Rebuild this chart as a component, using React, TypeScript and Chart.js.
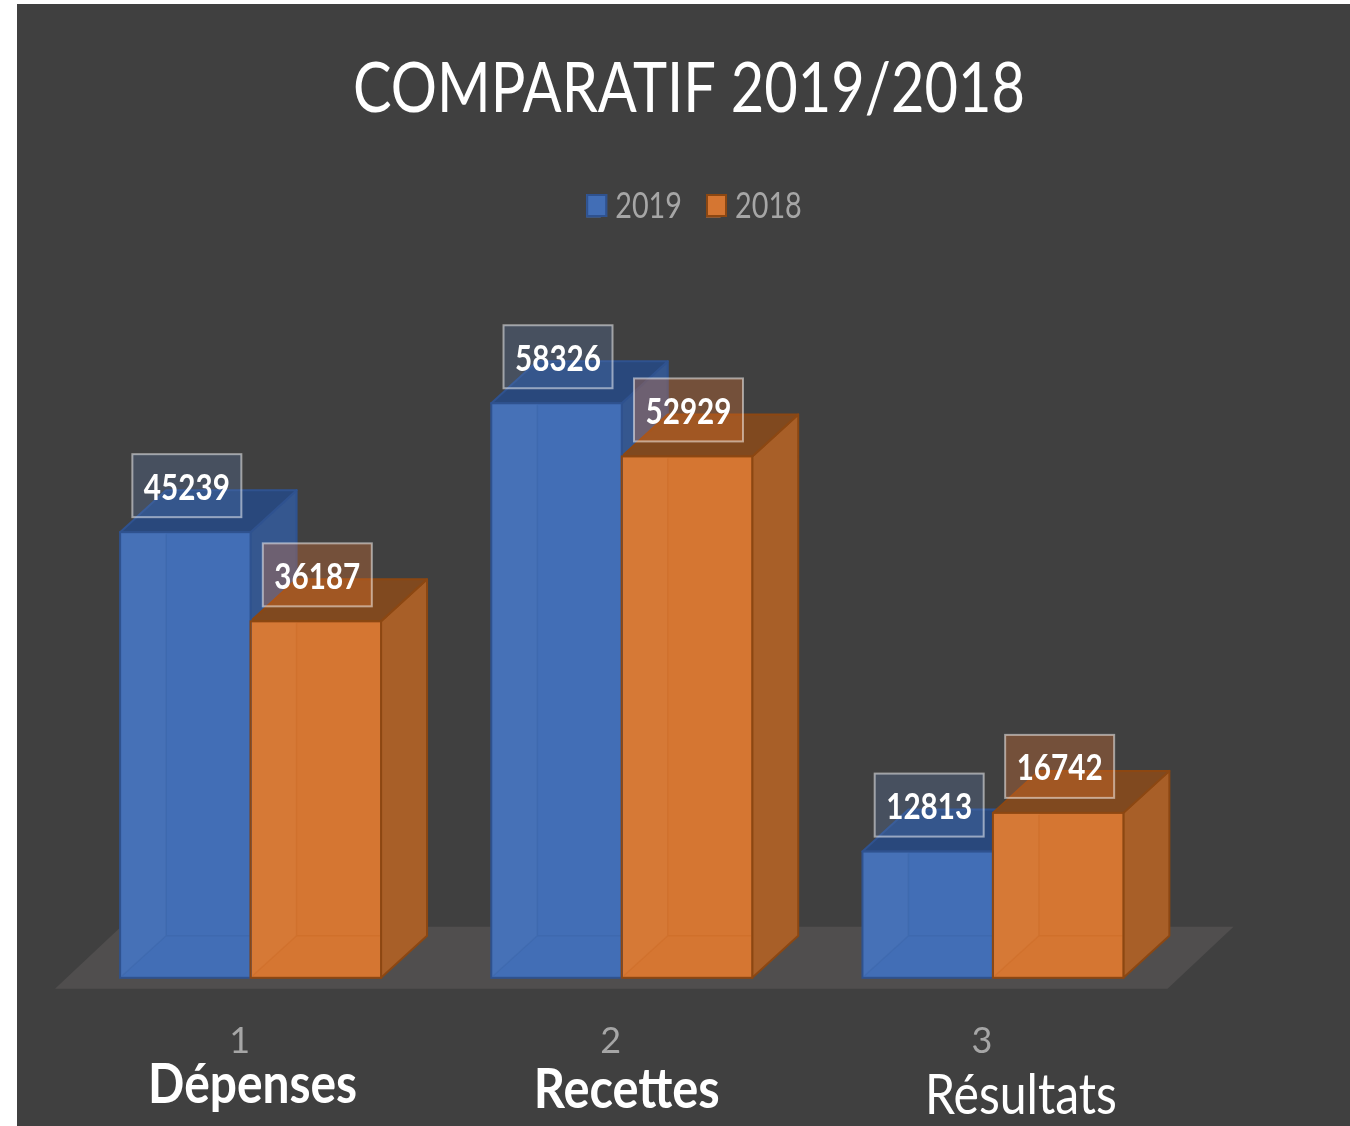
import React, { useEffect, useRef } from "react";
import { Chart, registerables } from "chart.js";

Chart.register(...registerables);

const FONT = 'Lato, "Liberation Sans", sans-serif';

const chartTitle = "COMPARATIF 2019/2018";
const categories = ["1", "2", "3"];
const categoryNames = ["Dépenses", "Recettes", "Résultats"];
const values2019 = [45239, 58326, 12813];
const values2018 = [36187, 52929, 16742];

const BLUE = { front: "#426eb6", edge: "#2f528f", side: "#35578f", top: "#29487c", tint: "rgba(92,128,188,0.25)" };
const ORANGE = { front: "#d57632", edge: "#8c4712", side: "#a85f28", top: "#80491f", tint: "rgba(237,120,47,0.3)" };
const DX = 46;
const DY = -42;
const TITLE_WIDTH = 672;
const LEGEND_SX = 0.8;
const LEGEND_CX = 694;

function stretchedText(ctx: any, text: string, cx: number, y: number, width: number) {
  const w = ctx.measureText(text).width;
  ctx.save();
  ctx.translate(cx, y);
  ctx.scale(width / w, 1);
  ctx.textAlign = "center";
  ctx.fillText(text, 0, 0);
  ctx.restore();
}

const pagePlugin = {
  id: "page3d",
  afterLayout(chart: any) {
    const title = chart.titleBlock;
    const legend = chart.legend;
    title.left += 67.25;
    title.right += 67.25;
    legend.left += 72.25;
    legend.right += 72.25;
    legend.legendHitBoxes.forEach((h: any) => (h.left += 72.25));
    if (!title.__wrapped) {
      title.__wrapped = true;
      const drawTitle = title.draw.bind(title);
      title.draw = (...args: any[]) => {
        const { ctx } = chart;
        ctx.save();
        ctx.font = `normal 70px ${FONT}`;
        const sx = TITLE_WIDTH / ctx.measureText(chartTitle).width;
        ctx.restore();
        const cx = (title.left + title.right) / 2;
        ctx.save();
        ctx.translate(cx, 0);
        ctx.scale(sx, 1);
        ctx.translate(-cx, 0);
        drawTitle(...args);
        ctx.restore();
      };
      const drawLegend = legend.draw.bind(legend);
      legend.draw = (...args: any[]) => {
        const { ctx } = chart;
        ctx.save();
        ctx.translate(LEGEND_CX, 0);
        ctx.scale(LEGEND_SX, 1);
        ctx.translate(-LEGEND_CX, 0);
        drawLegend(...args);
        ctx.restore();
      };
    }
  },
  beforeDraw(chart: any) {
    const { ctx } = chart;
    ctx.save();
    ctx.fillStyle = "#404040";
    ctx.fillRect(17, 4, 1333, 1122);
    ctx.restore();
  },
  beforeDatasetsDraw(chart: any) {
    const { ctx, chartArea } = chart;
    const base = chart.scales.y.getPixelForValue(0);
    // floor
    ctx.save();
    ctx.fillStyle = "#504e4e";
    ctx.beginPath();
    ctx.moveTo(chartArea.left - 10, base + 11);
    ctx.lineTo(chartArea.right - 11, base + 11);
    ctx.lineTo(chartArea.right + 55, base - 51);
    ctx.lineTo(chartArea.left + 56, base - 51);
    ctx.closePath();
    ctx.fill();
    // right and top faces of each block
    [0, 1].forEach((d) => {
      const c = d === 0 ? BLUE : ORANGE;
      chart.getDatasetMeta(d).data.forEach((bar: any) => {
        const half = bar.width / 2;
        const l = bar.x - half;
        const r = bar.x + half;
        const t = bar.y;
        ctx.lineWidth = 2;
        ctx.strokeStyle = c.edge;
        ctx.lineJoin = "round";
        ctx.fillStyle = c.side;
        ctx.beginPath();
        ctx.moveTo(r, t);
        ctx.lineTo(r + DX, t + DY);
        ctx.lineTo(r + DX, base + DY);
        ctx.lineTo(r, base);
        ctx.closePath();
        ctx.fill();
        ctx.stroke();
        ctx.fillStyle = c.top;
        ctx.beginPath();
        ctx.moveTo(l, t);
        ctx.lineTo(l + DX, t + DY);
        ctx.lineTo(r + DX, t + DY);
        ctx.lineTo(r, t);
        ctx.closePath();
        ctx.fill();
        ctx.stroke();
      });
    });
    ctx.restore();
  },
  afterDatasetsDraw(chart: any) {
    const { ctx } = chart;
    const base = chart.scales.y.getPixelForValue(0);
    [0, 1].forEach((d) => {
      const c = d === 0 ? BLUE : ORANGE;
      chart.getDatasetMeta(d).data.forEach((bar: any) => {
        const half = bar.width / 2;
        const l = bar.x - half;
        const r = bar.x + half;
        const t = bar.y;
        ctx.save();
        // inner walls seen through the translucent front
        ctx.fillStyle = "rgba(255,255,255,0.025)";
        ctx.beginPath();
        ctx.moveTo(l, t);
        ctx.lineTo(l + DX, t);
        ctx.lineTo(l + DX, base + DY);
        ctx.lineTo(l, base);
        ctx.closePath();
        ctx.fill();
        ctx.strokeStyle = d === 0 ? "rgba(47,82,143,0.18)" : "rgba(200,100,30,0.3)";
        ctx.lineWidth = 1.5;
        ctx.beginPath();
        ctx.moveTo(l + DX, t + 2);
        ctx.lineTo(l + DX, base + DY);
        ctx.lineTo(r - 1, base + DY);
        ctx.moveTo(l + DX, base + DY);
        ctx.lineTo(l + 2, base - 2);
        ctx.stroke();
        // front rim again so the walls do not cut it
        ctx.strokeStyle = c.edge;
        ctx.lineWidth = 2;
        ctx.strokeRect(l, t, bar.width, base - t);
        ctx.restore();
      });
    });
    // value labels
    [0, 1].forEach((d) => {
      const vals = d === 0 ? values2019 : values2018;
      const c = d === 0 ? BLUE : ORANGE;
      chart.getDatasetMeta(d).data.forEach((bar: any, i: number) => {
        const cx = bar.x + 1.5;
        const cy = bar.y - 46.5;
        ctx.save();
        ctx.fillStyle = c.tint;
        ctx.fillRect(cx - 54.5, cy - 31.5, 109, 63);
        ctx.strokeStyle = "rgba(255,255,255,0.5)";
        ctx.lineWidth = 2;
        ctx.strokeRect(cx - 54.5, cy - 31.5, 109, 63);
        ctx.fillStyle = "#ffffff";
        ctx.font = `bold 37px ${FONT}`;
        ctx.textBaseline = "middle";
        stretchedText(ctx, String(vals[i]), cx, cy + 2, 86);
        ctx.restore();
      });
    });
  },
  afterDraw(chart: any) {
    const { ctx } = chart;
    // legend swatches, wider than the box reserved by the legend
    chart.legend.legendHitBoxes.forEach((h: any, i: number) => {
      const c = i === 0 ? BLUE : ORANGE;
      const x = LEGEND_CX + (h.left - LEGEND_CX) * LEGEND_SX;
      const y = h.top + 6;
      ctx.save();
      ctx.fillStyle = c.front;
      ctx.strokeStyle = c.edge;
      ctx.lineWidth = 2;
      ctx.fillRect(x, y, 21, 23);
      ctx.strokeRect(x + 1, y + 1, 19, 21);
      ctx.restore();
    });
    // category names under the axis
    const nameStyle = [
      { weight: "bold", size: 56, dx: 2, y: 1103, width: 209 },
      { weight: "bold", size: 56, dx: 5, y: 1108, width: 186 },
      { weight: "normal", size: 56, dx: 28, y: 1114, width: 192 },
    ];
    categoryNames.forEach((name, i) => {
      const s = nameStyle[i];
      ctx.save();
      ctx.fillStyle = "#ffffff";
      ctx.font = `${s.weight} ${s.size}px ${FONT}`;
      ctx.textBaseline = "alphabetic";
      stretchedText(ctx, name, chart.scales.x.getPixelForTick(i) + s.dx, s.y, s.width);
      ctx.restore();
    });
  },
};

export default function App() {
  const ref = useRef<HTMLCanvasElement>(null);
  useEffect(() => {
    const chart = new Chart(ref.current as HTMLCanvasElement, {
      type: "bar",
      data: {
        labels: categories,
        datasets: [
          { label: "2019", data: values2019, backgroundColor: BLUE.front, borderColor: BLUE.edge, borderWidth: 0 },
          { label: "2018", data: values2018, backgroundColor: ORANGE.front, borderColor: ORANGE.edge, borderWidth: 0 },
        ],
      },
      options: {
        responsive: false,
        animation: false,
        layout: { padding: { left: 65, right: 171.5, top: 0, bottom: 29 } },
        datasets: { bar: { categoryPercentage: 0.703, barPercentage: 1 } },
        scales: {
          y: { display: false, min: 0, max: 75509 },
          x: {
            grid: { display: false },
            border: { display: false },
            ticks: {
              color: "#a6a6a6",
              font: { family: FONT, size: 36 },
              padding: 34,
              labelOffset: -11,
              maxRotation: 0,
            },
          },
        },
        plugins: {
          title: {
            display: true,
            text: chartTitle,
            color: "#ffffff",
            font: { family: FONT, size: 70, weight: "normal" },
            padding: { top: 47, bottom: 27 },
          },
          legend: {
            display: true,
            position: "top",
            labels: {
              color: "#a6a6a6",
              font: { family: FONT, size: 36 },
              boxWidth: 18.25,
              boxHeight: 23,
              padding: 30,
            },
          },
          tooltip: { enabled: false },
        },
      },
      plugins: [pagePlugin],
    } as any);
    return () => chart.destroy();
  }, []);
  return (
    <div style={{ position: "absolute", left: 0, top: 0, width: 1350, height: 1126, overflow: "hidden" }}>
      <canvas ref={ref} width={1350} height={1126} style={{ display: "block", filter: "blur(0.6px)" }} />
    </div>
  );
}
